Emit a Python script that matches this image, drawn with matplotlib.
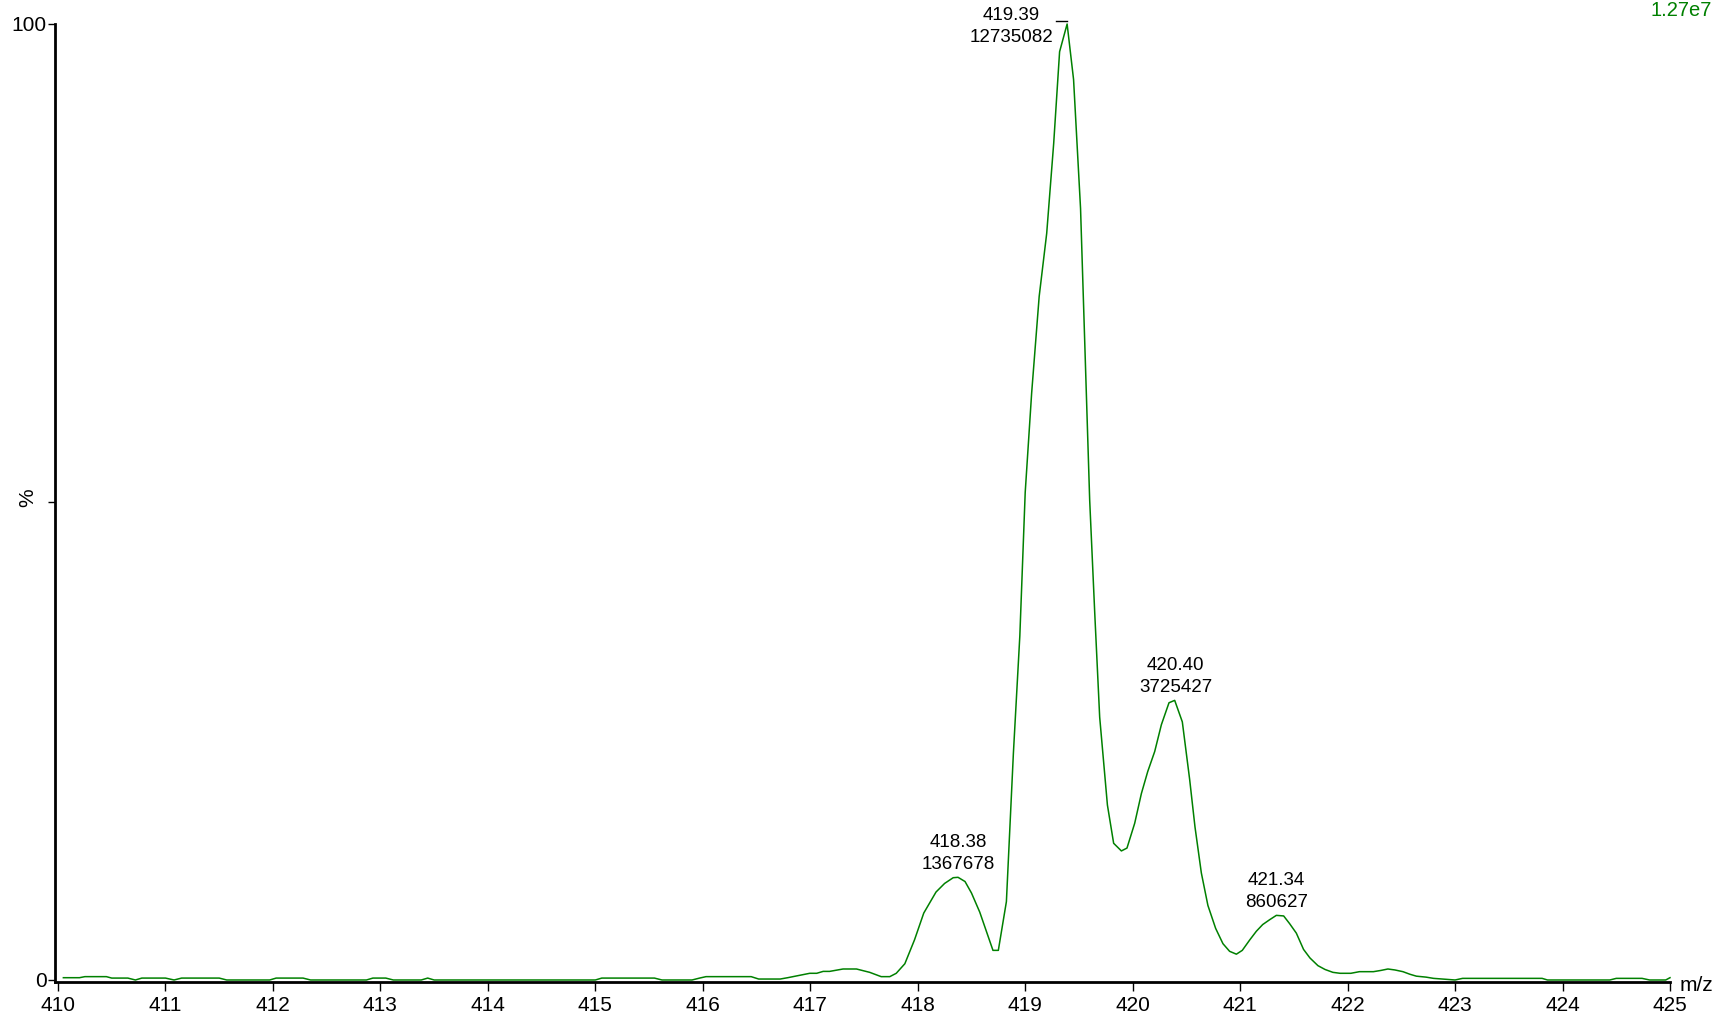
import matplotlib
matplotlib.use("Agg")
import matplotlib.pyplot as plt
import numpy as np

plt.rcParams['font.family'] = ['Liberation Sans', 'DejaVu Sans']

# spectrum trace, m/z and relative intensity (%)
mz = [410.05, 410.2, 410.25, 410.45, 410.5, 410.65, 410.72, 410.78, 411.0, 411.08,
      411.15, 411.5, 411.57, 411.97, 412.03, 412.28, 412.35, 412.87, 412.93, 413.05,
      413.12, 413.38, 413.44, 413.5, 415.0, 415.06, 415.55, 415.62, 415.9, 415.97,
      416.03, 416.45, 416.52, 416.72, 416.79, 416.995, 417.06, 417.12, 417.18, 417.305,
      417.43, 417.553, 417.66, 417.74, 417.80, 417.88, 417.97, 418.056, 418.17, 418.25,
      418.33, 418.375, 418.44, 418.50, 418.577, 418.70, 418.75, 418.825, 418.89, 418.95,
      419.00, 419.06, 419.13, 419.20, 419.265, 419.32, 419.39, 419.45, 419.515, 419.60,
      419.647, 419.693, 419.765, 419.823, 419.895, 419.947, 420.019, 420.081, 420.14, 420.205,
      420.267, 420.338, 420.391, 420.462, 420.53, 420.58, 420.639, 420.70, 420.772, 420.84,
      420.902, 420.965, 421.02, 421.09, 421.151, 421.21, 421.274, 421.337, 421.405, 421.46,
      421.523, 421.59, 421.65, 421.724, 421.79, 421.863, 421.93, 422.03, 422.11, 422.24,
      422.31, 422.375, 422.44, 422.515, 422.58, 422.64, 422.73, 422.80, 422.95, 423.0,
      423.07, 423.81, 423.86, 424.44, 424.5, 424.74, 424.81, 424.96, 425.0]
rel = [0.24, 0.24, 0.35, 0.35, 0.2, 0.2, 0.0, 0.2, 0.2, 0.0,
       0.2, 0.2, 0.0, 0.0, 0.2, 0.2, 0.0, 0.0, 0.2, 0.2,
       0.0, 0.0, 0.2, 0.0, 0.0, 0.2, 0.2, 0.0, 0.0, 0.2,
       0.35, 0.35, 0.1, 0.1, 0.24, 0.7, 0.7, 0.9, 0.9, 1.15,
       1.15, 0.8, 0.35, 0.35, 0.7, 1.7, 4.2, 7.0, 9.2, 10.1,
       10.7, 10.74, 10.3, 9.1, 7.1, 3.1, 3.1, 8.2, 23.7, 36.0,
       51.0, 61.4, 71.5, 78.1, 87.5, 97.1, 100.0, 94.2, 80.7, 50.2,
       38.4, 27.5, 18.3, 14.3, 13.5, 13.8, 16.4, 19.5, 21.8, 23.9,
       26.7, 29.0, 29.25, 27.0, 21.0, 16.0, 11.2, 7.8, 5.4, 3.8,
       3.0, 2.7, 3.1, 4.2, 5.1, 5.8, 6.3, 6.76, 6.7, 5.9,
       4.9, 3.2, 2.3, 1.5, 1.1, 0.8, 0.7, 0.7, 0.87, 0.87,
       1.0, 1.15, 1.05, 0.87, 0.6, 0.4, 0.3, 0.17, 0.05, 0.0,
       0.17, 0.17, 0.0, 0.0, 0.17, 0.17, 0.0, 0.0, 0.24]

# labelled peaks
peak_mz = [418.38, 419.39, 420.40, 421.34]
peak_int = [1367678, 12735082, 3725427, 860627]
base_int = 12735082

green = '#008000'
fs = 15

fig = plt.figure(figsize=(17.17, 10.18), dpi=100)
W, H = 1717, 1018
ax = fig.add_axes([55 / W, 36 / H, (1670 - 55) / W, (982 - 24) / H])

ax.plot(mz, rel, color=green, lw=1.1, clip_on=False)

ax.set_xlim(409.972, 425.0)
ax.set_ylim(-0.21, 100)

for s in ['top', 'right']:
    ax.spines[s].set_visible(False)
ax.spines['left'].set_linewidth(2.0)
ax.spines['bottom'].set_linewidth(2.0)

ax.set_xticks(np.arange(410, 426, 1))
ax.set_yticks([0, 50, 100])
ax.set_yticklabels(['0', '', '100'])
ax.tick_params(axis='x', direction='out', length=6.5, width=1.0, labelsize=fs, pad=3.5)
ax.tick_params(axis='y', direction='out', length=5, width=1.0, labelsize=fs, pad=1)

fig.text(28 / W, 1 - 498 / H, '%', fontsize=fs, rotation=90, ha='center', va='center')
ax.text(1.006, -0.004, 'm/z', transform=ax.transAxes, fontsize=fs, ha='left', va='center')
fig.text(1681 / W, 1 - 11 / H, '1.27e7', fontsize=14.5, color=green, ha='center', va='center')

for m, I in zip(peak_mz, peak_int):
    y = I / base_int * 100
    if I == base_int:
        off = (-40, -15.5)
    else:
        off = (0, 3)
    ax.annotate(f"{m:.2f}\n{I}", xy=(m, y), xytext=off, textcoords='offset points',
                ha='center', va='bottom', fontsize=13.5, linespacing=1.38)

# base peak marker
ax.plot([peak_mz[1] - 0.1, peak_mz[1]], [100.35, 100.35], color='black', lw=1.0, clip_on=False)

fig.savefig('out.png', dpi=100)
